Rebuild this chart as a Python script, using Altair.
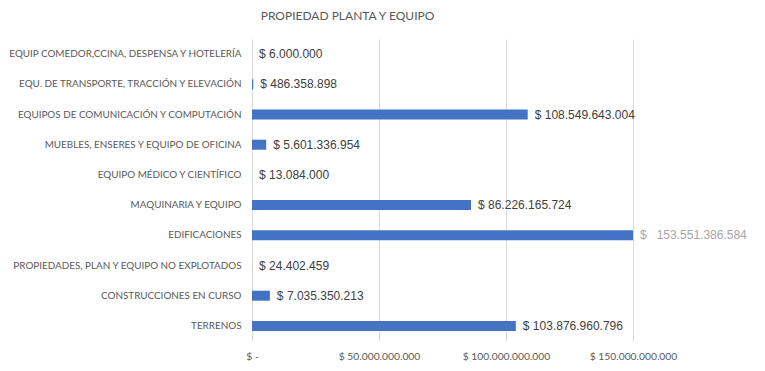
import altair as alt
import pandas as pd

categories = [
    "EQUIP COMEDOR,CCINA, DESPENSA Y HOTELERÍA",
    "EQU. DE TRANSPORTE, TRACCIÓN Y ELEVACIÓN",
    "EQUIPOS DE COMUNICACIÓN Y COMPUTACIÓN",
    "MUEBLES, ENSERES Y EQUIPO DE OFICINA",
    "EQUIPO MÉDICO Y CIENTÍFICO",
    "MAQUINARIA Y EQUIPO",
    "EDIFICACIONES",
    "PROPIEDADES, PLAN Y EQUIPO NO EXPLOTADOS",
    "CONSTRUCCIONES EN CURSO",
    "TERRENOS",
]
values = [6000000, 486358898, 108549643004, 5601336954, 13084000,
          86226165724, 153551386584, 24402459, 7035350213, 103876960796]
tick_values = [0, 50000000000, 100000000000, 150000000000]
tick_labels = ["$ -", "$ 50.000.000.000", "$ 100.000.000.000", "$ 150.000.000.000"]
axis_max = 150000000000


def fmt(v):
    return "{:,}".format(v).replace(",", ".")


labels = []
colors = []
for c, v in zip(categories, values):
    if c == "EDIFICACIONES":
        labels.append("$\u00a0\u00a0\u00a0" + fmt(v))
        colors.append("#a6a6a6")
    else:
        labels.append("$ " + fmt(v))
        colors.append("#404040")

df = pd.DataFrame({
    "cat": categories,
    "value": values,
    "shown": [min(v, axis_max) for v in values],
    "label": labels,
    "color": colors,
})

label_expr = " : ".join(
    f"datum.value == {v} ? '{l}'" for v, l in zip(tick_values, tick_labels)
) + " : ''"

LATO = "Lato, sans-serif"
REG = "Liberation Sans, sans-serif"

x = alt.X("shown:Q", scale=alt.Scale(domain=[0, axis_max], nice=False),
          axis=alt.Axis(values=tick_values, labelExpr=label_expr, title=None,
                        grid=True, gridColor="#d9d9d9", domain=False, ticks=False,
                        labelColor="#595959", labelFontSize=10.3, labelFont=LATO,
                        labelPadding=10, labelOverlap=False, labelFlush=False))
y = alt.Y("cat:N", sort=categories,
          axis=alt.Axis(title=None, domain=False, ticks=False, labelColor="#595959",
                        labelFontSize=9.9, labelFont=LATO, labelLimit=400,
                        labelPadding=11))

bars = alt.Chart(df).mark_bar(size=10, color="#4472C4", clip=True).encode(x=x, y=y)
text = alt.Chart(df).mark_text(align="left", baseline="middle", dx=7,
                               fontSize=12, font=REG).encode(
    x="shown:Q", y=alt.Y("cat:N", sort=categories),
    text="label:N", color=alt.Color("color:N", scale=None))

chart = (bars + text).properties(
    width=381, height=302,
    autosize=alt.AutoSizeParams(type="none"),
    padding={"left": 244, "top": 31, "right": 124, "bottom": 22},
    title=alt.TitleParams("PROPIEDAD PLANTA Y EQUIPO", color="#595959", fontSize=12,
                          font=LATO, fontWeight="normal", anchor="middle",
                          dx=-95, offset=16),
).configure_view(stroke=None)

chart.save("out.html", embed_options={"renderer": "svg", "actions": False})
